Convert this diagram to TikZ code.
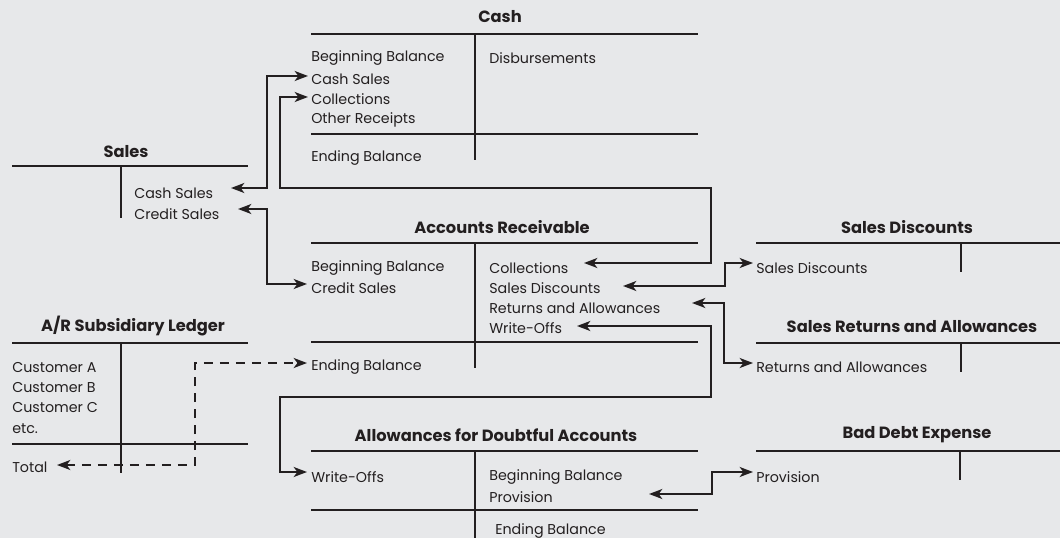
\documentclass[tikz,border=0pt]{standalone}
\usepackage{fontspec}
\setmainfont{Poppins}
\usetikzlibrary{arrows.meta}
\definecolor{ink}{HTML}{231F20}
\definecolor{paper}{HTML}{E7E8EA}
\begin{document}
\begin{tikzpicture}[x=0.75pt,y=-0.75pt,
  rule/.style={draw=ink,line width=1.4pt},
  lbl/.style={anchor=west,inner sep=0pt,text=ink,font=\fontsize{10.7pt}{12pt}\selectfont},
  ttl/.style={inner sep=0pt,text=ink,font=\fontsize{12.2pt}{14pt}\selectfont\bfseries},
  link/.style={draw=ink,line width=1.4pt,
    arrows={Stealth[length=10pt,width=7.5pt,inset=2.8pt]-Stealth[length=10pt,width=7.5pt,inset=2.8pt]}},
  dlink/.style={link,dash pattern=on 7pt off 5pt}]
\fill[paper] (0,0) rectangle (1060,538);
\useasboundingbox (0,0) rectangle (1060,538);

% ---- Cash ----
\node[ttl] (cashT) at (500,17) {Cash};
\draw[rule] (311,34) -- (698,34) (475,34) -- (475,160) (311,134) -- (698,134);
\node[lbl] (cashBB) at (311,58) {Beginning Balance};
\node[lbl] (cashCS) at (311,79) {Cash Sales};
\node[lbl] (cashCol) at (311,99) {Collections};
\node[lbl] (cashOR) at (311,120) {Other Receipts};
\node[lbl] (cashEB) at (311,158) {Ending Balance};
\node[lbl] (cashDis) at (489,58) {Disbursements};

% ---- Sales ----
\node[ttl] (salesT) at (126,152) {Sales};
\draw[rule] (12,166) -- (248,166) (121,166) -- (121,218);
\node[lbl] (salesCS) at (134,193) {Cash Sales};
\node[lbl] (salesCr) at (134,214) {Credit Sales};

% ---- Accounts Receivable ----
\node[ttl] (arT) at (502,227) {Accounts Receivable};
\draw[rule] (311,243) -- (698,243) (475,243) -- (475,368) (311,342) -- (698,342);
\node[lbl] (arBB) at (311,268) {Beginning Balance};
\node[lbl] (arCr) at (311,288) {Credit Sales};
\node[lbl] (arEB) at (311,367) {Ending Balance};
\node[lbl] (arCol) at (489,268) {Collections};
\node[lbl] (arSD) at (489,288) {Sales Discounts};
\node[lbl] (arRA) at (489,308) {Returns and Allowances};
\node[lbl] (arWO) at (489,328) {Write-Offs};

% ---- A/R Subsidiary Ledger ----
\node[ttl] (subT) at (133,326) {A/R Subsidiary Ledger};
\draw[rule] (12,343) -- (248,343) (121,343) -- (121,473) (12,444) -- (248,444);
\node[lbl] (subA) at (12,368) {Customer A};
\node[lbl] (subB) at (12,388) {Customer B};
\node[lbl] (subC) at (12,408) {Customer C};
\node[lbl] (subEtc) at (12,429) {etc.};
\node[lbl] (subTot) at (12,467) {Total};

% ---- Sales Discounts ----
\node[ttl] (sdT) at (907,227) {Sales Discounts};
\draw[rule] (756,243) -- (1060,243) (961,243) -- (961,272);
\node[lbl] (sdSD) at (756,268) {Sales Discounts};

% ---- Sales Returns and Allowances ----
\node[ttl] (sraT) at (912,327) {Sales Returns and Allowances};
\draw[rule] (756,343) -- (1060,343) (961,343) -- (961,372);
\node[lbl] (sraRA) at (756,367) {Returns and Allowances};

% ---- Allowances for Doubtful Accounts ----
\node[ttl] (adaT) at (496,435) {Allowances for Doubtful Accounts};
\draw[rule] (311,451) -- (698,451) (475,451) -- (475,540) (311,510) -- (698,510);
\node[lbl] (adaWO) at (311,477) {Write-Offs};
\node[lbl] (adaBB) at (489,477) {Beginning Balance};
\node[lbl] (adaPr) at (489,497) {Provision};
\node[lbl] (adaEB) at (495,531) {Ending Balance};

% ---- Bad Debt Expense ----
\node[ttl] (bdeT) at (917,435) {Bad Debt Expense};
\draw[rule] (756,451) -- (1060,451) (960,451) -- (960,480);
\node[lbl] (bdePr) at (756,477) {Provision};

% ---- connector ends ----
\coordinate (eSalesCS) at (231,188);
\coordinate (eCashCS) at (308,76);
\coordinate (eSalesCr) at (238,209);
\coordinate (eArCr) at (307,284);
\coordinate (eCashCol) at (308,97);
\coordinate (eArCol) at (584,263);
\coordinate (eArSD) at (623,286);
\coordinate (eSdSD) at (753,263);
\coordinate (eArRA) at (692,303);
\coordinate (eSraRA) at (753,363);
\coordinate (eArWO) at (577,326);
\coordinate (eAdaWO) at (307,472);
\coordinate (eAdaPr) at (649,494);
\coordinate (eBdePr) at (753,472);
\coordinate (eSubTot) at (57,465);
\coordinate (eArEB) at (307,363);

% ---- connectors ----
\draw[link] (eSalesCS) -- (267,188) |- (eCashCS);
\draw[link] (eSalesCr) -- (267,209) |- (eArCr);
\draw[link] (eCashCol) -- (280,97) -- (280,188) -- (711,188) |- (eArCol);
\draw[link] (eArSD) -- (725,286) |- (eSdSD);
\draw[link] (eArRA) -- (724,303) |- (eSraRA);
\draw[link] (eArWO) -- (711,326) -- (711,397) -- (280,397) |- (eAdaWO);
\draw[link] (eAdaPr) -- (712,494) |- (eBdePr);
\draw[dlink] (eSubTot) -- (195,465) |- (eArEB);
\end{tikzpicture}
\end{document}
